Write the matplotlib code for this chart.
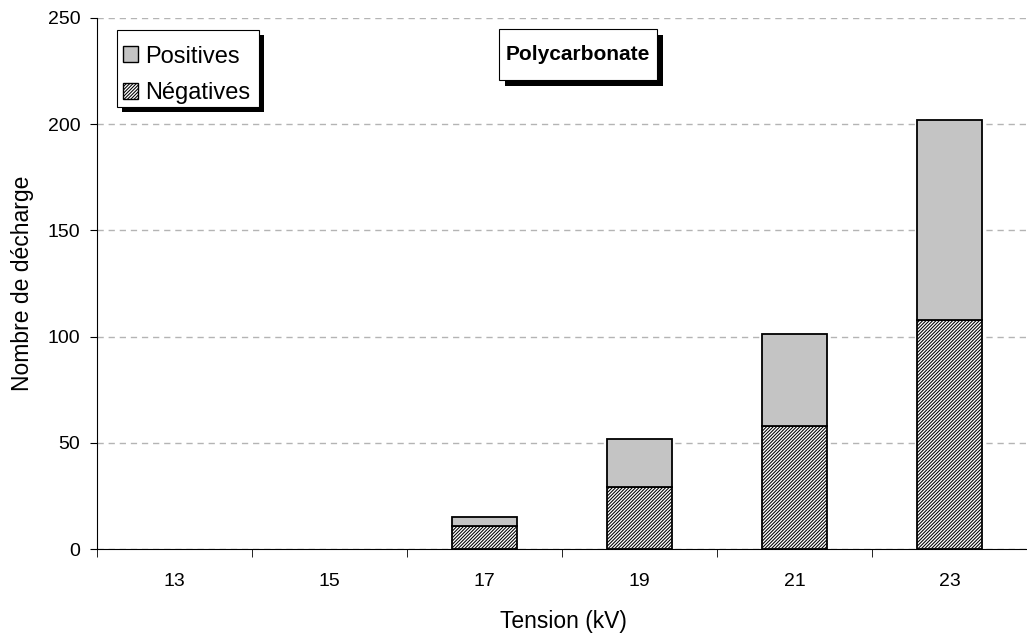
import matplotlib
matplotlib.use("Agg")
import matplotlib.pyplot as plt
import matplotlib.patheffects as pe
from matplotlib.patches import Patch, Rectangle
import numpy as np

tensions = ["13", "15", "17", "19", "21", "23"]
negatives = [0, 0, 11, 29, 58, 108]
positives = [0, 0, 4, 23, 43, 94]

plt.rcParams['font.family'] = ['Liberation Sans', 'DejaVu Sans']
plt.rcParams['hatch.linewidth'] = 0.75

NEG_HATCH = '/' * 10
POS_COLOR = '#c4c4c4'
shadow = [pe.SimplePatchShadow(offset=(3.6, -3.6), shadow_rgbFace='black', alpha=1), pe.Normal()]

fig = plt.figure(figsize=(10.27, 6.39), dpi=100)
ax = fig.add_axes([97 / 1027, 1 - 549 / 639, 930 / 1027, 531 / 639])

x = np.arange(len(tensions))
w = 0.42
# only draw the stacks that have counts, so no flat outlines at 13 and 15 kV
has = [i for i in x if negatives[i] + positives[i] > 0]
ax.bar(x[has], [negatives[i] for i in has], w, color='white', edgecolor='black',
       hatch=NEG_HATCH, linewidth=1.3, zorder=3)
ax.bar(x[has], [positives[i] for i in has], w, bottom=[negatives[i] for i in has],
       color=POS_COLOR, edgecolor='black', linewidth=1.3, zorder=3)

ax.set_xlim(-0.5, len(tensions) - 0.5)
ax.set_ylim(0, 250)
ax.set_yticks(range(0, 251, 50))
ax.set_xticks(x)
ax.set_xticklabels(tensions)
ax.set_xticks(np.arange(-0.5, len(tensions), 1), minor=True)
ax.tick_params(axis='x', which='major', length=0, pad=17, labelsize=14)
ax.tick_params(axis='x', which='minor', length=6, direction='out')
ax.tick_params(axis='y', length=5, direction='out', labelsize=14, pad=7)
ax.yaxis.grid(True, linestyle=(0, (4.5, 3.5)), color='#b4b4b4', linewidth=1.0, zorder=0)
ax.spines['top'].set_visible(False)
ax.spines['right'].set_visible(False)
ax.set_xlabel('Tension (kV)', fontsize=16.5)
ax.set_ylabel('Nombre de décharge', fontsize=16.5)
ax.xaxis.set_label_coords(0.502, -0.115)
ax.yaxis.set_label_coords(-0.068, 0.5)

# legend box drawn by hand so it can be taller than the default padding allows
legbox = Rectangle((0.0215, 0.8324), 0.1527, 0.1450, transform=ax.transAxes,
                   facecolor='white', edgecolor='black', linewidth=0.8, zorder=6)
legbox.set_path_effects(shadow)
ax.add_patch(legbox)
handles = [Patch(facecolor=POS_COLOR, edgecolor='black', linewidth=1.0, label='Positives'),
           Patch(facecolor='white', edgecolor='black', linewidth=1.0, hatch=NEG_HATCH,
                 label='Négatives')]
leg = ax.legend(handles=handles, loc='center left', bbox_to_anchor=(0.028, 0.8927),
                fontsize=17, frameon=False, handlelength=0.65, handleheight=0.65,
                handletextpad=0.3, borderpad=0, labelspacing=0.62, borderaxespad=0)
leg.set_zorder(7)

titlebox = Rectangle((0.4323, 0.8832), 0.1699, 0.0960, transform=ax.transAxes,
                     facecolor='white', edgecolor='black', linewidth=0.8, zorder=6)
titlebox.set_path_effects([pe.SimplePatchShadow(offset=(4, -4), shadow_rgbFace='black', alpha=1),
                           pe.Normal()])
ax.add_patch(titlebox)
ax.text(0.5172, 0.931, 'Polycarbonate', transform=ax.transAxes, ha='center', va='center',
        fontsize=15, fontweight='bold', zorder=7)

fig.savefig('out.png', dpi=100)
